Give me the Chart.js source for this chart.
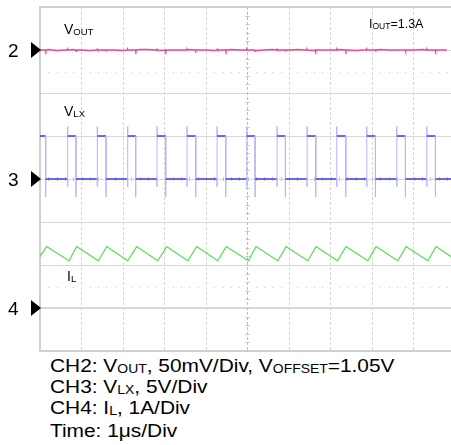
<!DOCTYPE html>
<html>
<head>
<meta charset="utf-8">
<script src="https://cdn.jsdelivr.net/npm/chart.js@4.4.0/dist/chart.umd.min.js"></script>
<style>
html, body { margin: 0; padding: 0; background: #fff; overflow: hidden; }
#wrap { position: relative; width: 451px; height: 445px; font-family: Arial, "Liberation Sans", Helvetica, sans-serif; color: #000; }
#box { position: absolute; left: 0; top: 0; width: 451px; height: 352px; }
.t { position: absolute; white-space: nowrap; line-height: 1; }
.t sub { vertical-align: baseline; position: relative; top: 1px; }
.lbl { font-size: 14px; }
.lbl sub { font-size: 9.5px; }
.ch { font-size: 19px; }
.cap { font-size: 18px; left: 50px; transform: scaleX(1.16); transform-origin: left top; }
.cap sub { font-size: 12px; }
</style>
</head>
<body>
<div id="wrap">
  <div id="box"><canvas id="scope"></canvas></div>

  <div class="t ch" style="left:8px;top:41px">2</div>
  <div class="t ch" style="left:8px;top:170px">3</div>
  <div class="t ch" style="left:8px;top:299px">4</div>

  <div class="t lbl" style="left:64px;top:22px">V<sub>OUT</sub></div>
  <div class="t lbl" style="left:64px;top:104px">V<sub>LX</sub></div>
  <div class="t lbl" style="left:67px;top:269px">I<sub>L</sub></div>
  <div class="t" style="left:369px;top:18px;font-size:12.5px">I<sub style="font-size:8.5px">OUT</sub>=1.3A</div>

  <div class="t cap" style="top:357px">CH2: V<sub>OUT</sub>, 50mV/Div, V<sub>OFFSET</sub>=1.05V</div>
  <div class="t cap" style="top:378px">CH3: V<sub>LX</sub>, 5V/Div</div>
  <div class="t cap" style="top:399px">CH4: I<sub>L</sub>, 1A/Div</div>
  <div class="t cap" style="top:422px">Time: 1μs/Div</div>
</div>
<script>
// screen: 10 div wide (only 9.9 visible), 8 div high, centre = 0
const timeMax = 9.9;
const channelOffsets = [3, 0, -3];   // CH2, CH3, CH4 ground markers

// CH2 Vout, sampled every 0.2 us
const voutLevel = 3.0;
const voutValues = [3.00, 3.01, 2.99, 3.00, 3.01, 3.00, 2.99, 3.00, 3.01, 3.00,
                    2.99, 3.00, 3.01, 3.01, 3.00, 2.99, 3.00, 3.00, 3.01, 3.00,
                    3.00, 2.99, 3.00, 3.01, 3.00, 3.00, 2.99, 3.00, 3.01, 3.00,
                    3.00, 3.01, 3.00, 2.99, 3.00, 3.00, 3.01, 3.00, 2.99, 3.00,
                    3.00, 3.01, 3.00, 3.00, 2.99, 3.00, 3.01, 3.00, 3.00, 3.00];
const voutSpikeTimes = [0.14, 0.67, 0.87, 1.38, 1.59, 2.11, 2.31, 2.82, 3.03, 3.54, 3.75, 4.27, 4.48,
                        4.98, 5.18, 5.71, 5.91, 6.43, 6.64, 7.15, 7.37, 7.87, 8.08, 8.60, 8.80, 9.32, 9.53];
const voutSpikeValues = [2.97, 3.02, 2.97, 3.02, 2.98, 3.02, 2.97, 3.02, 2.97, 3.02, 2.98, 3.02, 2.97,
                         3.02, 2.97, 3.02, 2.98, 3.02, 2.97, 3.02, 2.97, 3.02, 2.98, 3.02, 2.97, 3.02, 2.97];

// CH3 Vlx switching node (div)
const vlxRise = [0.667, 1.381, 2.113, 2.819, 3.542, 4.265, 4.981, 5.711, 6.434, 7.149, 7.872, 8.595, 9.318];
const vlxFall = [0.137, 0.867, 1.590, 2.306, 3.029, 3.752, 4.475, 5.181, 5.911, 6.643, 7.366, 8.080, 8.802, 9.525];
const vlxLow = 0, vlxHigh = 1.0;
const vlxRiseSpike = 1.22, vlxRiseDip = -0.18, vlxFallDip = -0.42;

// CH4 inductor current (div)
const ilPeakTimes = [0.161, 0.884, 1.607, 2.330, 3.053, 3.776, 4.487, 5.205, 5.928, 6.651, 7.373, 8.096, 8.819, 9.542];
const ilValleyTimes = [0.699, 1.405, 2.113, 2.836, 3.559, 4.282, 5.019, 5.728, 6.451, 7.164, 7.896, 8.619, 9.342];
const ilPeak = -1.57, ilValley = -1.90;
const ilStart = -1.80, ilEnd = -1.81;

// ---- build point lists ----
let voutPts = voutValues.map((v, i) => ({ x: i * 0.2, y: v }));
voutSpikeTimes.forEach((t, i) => {
    voutPts.push({ x: t - 0.012, y: voutLevel });
    voutPts.push({ x: t, y: voutSpikeValues[i] });
    voutPts.push({ x: t + 0.012, y: voutLevel });
});
voutPts.sort((a, b) => a.x - b.x);

let edges = vlxFall.map(t => ({ t: t, up: false })).concat(vlxRise.map(t => ({ t: t, up: true })));
edges.sort((a, b) => a.t - b.t);
let vlxPts = [{ x: 0, y: vlxHigh }];
edges.forEach(e => {
    if (e.up) {
        vlxPts.push({ x: e.t, y: vlxLow }, { x: e.t, y: vlxRiseDip }, { x: e.t, y: vlxRiseSpike }, { x: e.t, y: vlxHigh });
    } else {
        vlxPts.push({ x: e.t, y: vlxHigh }, { x: e.t, y: vlxFallDip }, { x: e.t, y: vlxLow });
    }
});
vlxPts.push({ x: timeMax + 0.1, y: vlxLow });

let ilPts = [{ x: 0, y: ilStart }]
    .concat(ilPeakTimes.map(t => ({ x: t, y: ilPeak })))
    .concat(ilValleyTimes.map(t => ({ x: t, y: ilValley })));
ilPts.sort((a, b) => a.x - b.x);
ilPts.push({ x: timeMax + 0.01, y: ilEnd });

const isEdge = c => c.p0.parsed.x === c.p1.parsed.x;

// grid decorations + channel markers
const scopeDecor = {
    id: 'scopeDecor',
    beforeDatasetsDraw(chart) {
        const { ctx, scales: { x, y } } = chart;
        ctx.save();
        ctx.fillStyle = '#c4c4c4';
        const cx = x.getPixelForValue(5);
        for (let k = -20; k <= 20; k++) {
            const yy = y.getPixelForValue(k * 0.2);
            ctx.fillRect(cx - 2, Math.round(yy), 4, 1);
        }
        const cy = y.getPixelForValue(0);
        for (let k = 0; k < 50; k++) {
            const xx = x.getPixelForValue(k * 0.2);
            ctx.fillRect(Math.round(xx), cy - 2, 1, 4);
        }
        ctx.fillStyle = '#cdcdcd';
        [2.5, -2.5].forEach(v => {
            const yy = Math.round(y.getPixelForValue(v));
            for (let k = 1; k < 50; k++) {
                if (k % 5 === 0) continue;
                ctx.fillRect(Math.round(x.getPixelForValue(k * 0.2)), yy, 1, 1);
            }
        });
        ctx.restore();
    },
    afterDraw(chart) {
        const { ctx, chartArea: a, scales: { y } } = chart;
        ctx.save();
        ctx.fillStyle = '#000';
        channelOffsets.forEach(v => {
            const yy = y.getPixelForValue(v);
            ctx.beginPath();
            ctx.moveTo(a.left - 9, yy - 8);
            ctx.lineTo(a.left + 1, yy);
            ctx.lineTo(a.left - 9, yy + 8);
            ctx.closePath();
            ctx.fill();
        });
        ctx.restore();
    }
};

new Chart(document.getElementById('scope'), {
    type: 'line',
    data: {
        datasets: [{
            label: 'VOUT',
            data: voutPts,
            borderColor: '#f0468f',
            borderWidth: 1.4
        }, {
            label: 'VLX',
            data: vlxPts,
            borderColor: '#4848e8',
            borderWidth: 1.6,
            segment: {
                borderColor: c => isEdge(c) ? '#b4b4ff' : '#4848e8',
                borderWidth: c => isEdge(c) ? 1 : 1.6
            }
        }, {
            label: 'IL',
            data: ilPts,
            borderColor: '#4cdc4c',
            borderWidth: 1.2
        }]
    },
    options: {
        animation: false,
        responsive: true,
        maintainAspectRatio: false,
        layout: { padding: { left: 40, top: 7, right: 0, bottom: 1 } },
        elements: { point: { radius: 0 }, line: { tension: 0 } },
        plugins: { legend: { display: false }, tooltip: { enabled: false } },
        scales: {
            x: {
                type: 'linear',
                min: 0,
                max: timeMax,
                ticks: { display: false, stepSize: 1, includeBounds: false },
                grid: {
                    drawTicks: false,
                    color: c => c.tick && c.tick.value === 5 ? '#bdbdbd' : '#d6d6d6',
                    lineWidth: 1
                },
                border: { display: true, color: '#d0d0d0', width: 2, dash: [3, 2] }
            },
            y: {
                type: 'linear',
                min: -4,
                max: 4,
                ticks: { display: false, stepSize: 1 },
                grid: {
                    drawTicks: false,
                    color: c => {
                        const v = c.tick ? c.tick.value : 0;
                        if (v === 4 || v === -4) return '#d0d0d0';
                        if (v === -3) return '#d8d8d8';
                        return '#d8d8d8';
                    },
                    lineWidth: c => {
                        const v = c.tick ? c.tick.value : 0;
                        return (v === 4 || v === -3) ? 2 : 1;
                    }
                },
                border: { display: true, color: '#d0d0d0', width: 2 }
            }
        }
    },
    plugins: [scopeDecor]
});
</script>
</body>
</html>
